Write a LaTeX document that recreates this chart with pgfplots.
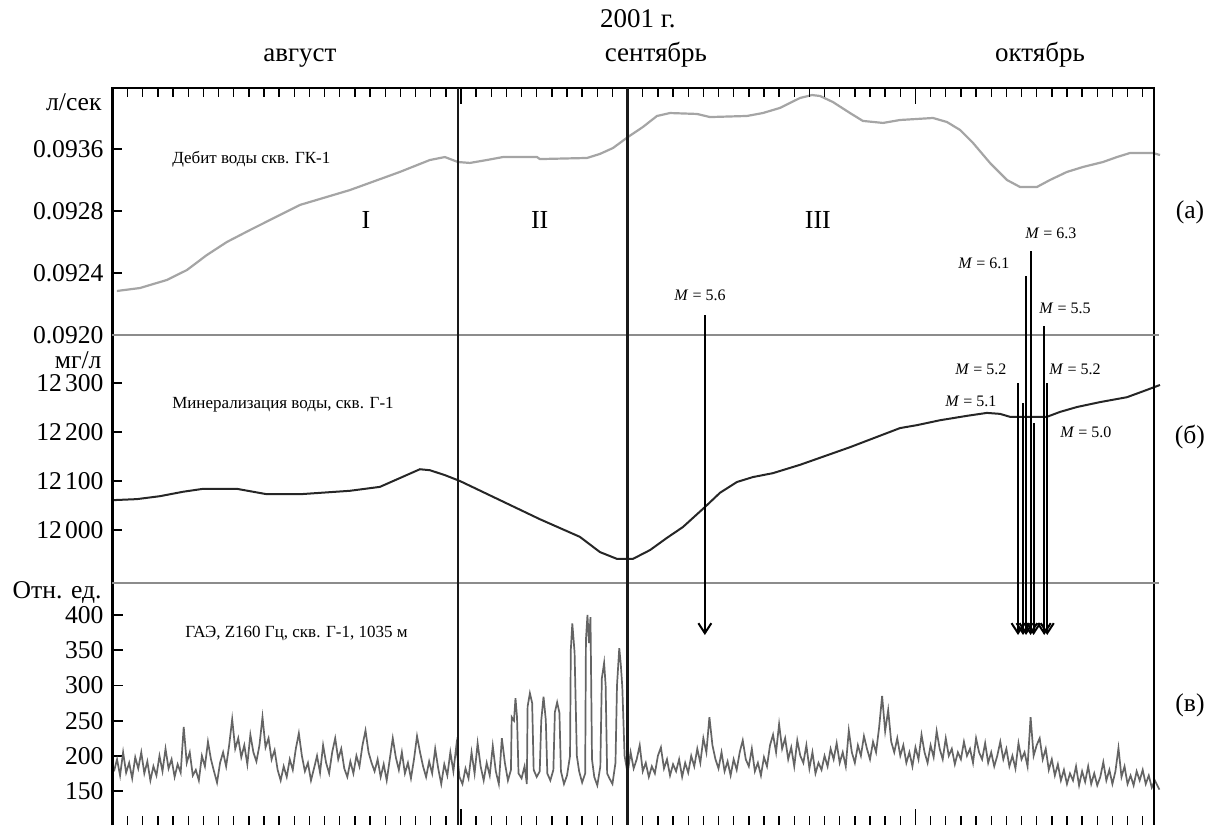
\documentclass[border=0pt]{standalone}
\usepackage{fontspec}
\setmainfont{Liberation Serif}
\usepackage{pgfplots}
\usepackage{pgfplotstable}
\pgfplotsset{compat=1.18}
\usetikzlibrary{arrows.meta}

\definecolor{debitgray}{RGB}{165,165,165}
\definecolor{gaegray}{RGB}{100,100,100}
\definecolor{sepgray}{RGB}{140,140,140}
\newcommand\tickfont{\fontsize{12.8}{14}\selectfont}
\newcommand\innerf{\fontsize{8.5}{10}\selectfont}
\newcommand\mfont{\fontsize{8}{9}\selectfont}
\newcommand\topf{\fontsize{13.5}{15}\selectfont}
\newcommand\thou{\kern0.12em}

% x: days from 1 Aug 2001 (Sep 1 = 31, Oct 1 = 61)
\pgfplotstableread{
d v
8.29 0.092284
9.81 0.092303
11.59 0.092355
12.91 0.092419
14.23 0.092516
15.55 0.092600
17.07 0.092677
20.37 0.092839
23.67 0.092935
26.97 0.093052
28.95 0.093129
29.94 0.093148
30.80 0.093116
31.59 0.093110
32.72 0.093129
33.77 0.093148
36.02 0.093148
36.21 0.093135
39.32 0.093142
40.17 0.093168
41.03 0.093206
42.02 0.093277
43.01 0.093342
43.94 0.093413
44.80 0.093432
46.58 0.093426
47.44 0.093406
49.88 0.093413
50.93 0.093432
52.06 0.093465
53.38 0.093529
54.17 0.093548
54.70 0.093542
55.55 0.093503
56.68 0.093432
57.53 0.093381
58.86 0.093368
59.98 0.093387
62.16 0.093400
63.08 0.093374
63.94 0.093323
64.80 0.093239
65.92 0.093110
67.04 0.093000
67.90 0.092955
69.02 0.092955
69.88 0.093000
71.00 0.093052
72.06 0.093084
73.38 0.093116
74.30 0.093148
75.16 0.093174
76.68 0.093174
77.14 0.093161
}\debit

\pgfplotstableread{
d v
8.10 12061
9.61 12063
11.13 12069
12.65 12078
13.97 12084
16.21 12084
18.19 12073
20.37 12073
23.67 12080
25.65 12088
26.97 12106
28.29 12124
28.95 12122
29.94 12112
30.93 12100
33.57 12061
36.21 12022
38.85 11986
40.17 11955
41.30 11941
42.35 11941
43.48 11959
44.60 11984
45.65 12006
47.11 12047
48.10 12076
49.22 12098
50.27 12108
51.59 12116
53.38 12133
56.68 12169
59.98 12208
61.10 12214
62.62 12224
64.40 12233
65.72 12239
66.58 12237
67.24 12231
69.68 12231
70.54 12241
71.66 12251
73.18 12261
74.96 12271
76.28 12286
77.14 12296
}\miner

\pgfplotstableread{
d v
8.1 178
8.3 195
8.5 172
8.7 205
8.9 176
9.1 190
9.3 168
9.5 198
9.7 182
9.9 205
10.1 175
10.3 192
10.5 165
10.7 185
10.9 172
11.1 200
11.3 178
11.5 210
11.7 182
11.9 195
12.1 170
12.3 188
12.5 176
12.7 241
12.9 190
13.1 205
13.3 172
13.5 180
13.7 165
13.9 200
14.1 185
14.3 220
14.5 195
14.7 178
14.9 162
15.1 190
15.3 205
15.5 185
15.7 215
15.9 252
16.1 210
16.3 225
16.5 198
16.7 215
16.9 188
17.1 230
17.3 205
17.5 192
17.7 215
17.9 255
18.1 212
18.3 225
18.5 195
18.7 208
18.9 180
19.1 165
19.3 185
19.5 170
19.7 195
19.9 180
20.1 210
20.3 232
20.5 200
20.7 178
20.9 190
21.1 165
21.3 182
21.5 200
21.7 176
21.9 215
22.1 190
22.3 175
22.5 205
22.7 225
22.9 195
23.1 210
23.3 182
23.5 170
23.7 192
23.9 175
24.1 200
24.3 185
24.5 215
24.7 236
24.9 205
25.1 190
25.3 178
25.5 195
25.7 170
25.9 188
26.1 165
26.3 195
26.5 225
26.7 198
26.9 180
27.1 205
27.3 175
27.5 190
27.7 168
27.9 195
28.1 228
28.3 205
28.5 185
28.7 170
28.9 192
29.1 175
29.3 210
29.5 182
29.7 160
29.9 188
30.1 172
30.3 205
30.5 178
30.7 215
30.9 170
31.1 160
31.3 182
31.5 168
31.7 205
31.9 175
32.1 218
32.3 185
32.5 165
32.7 190
32.9 172
33.1 214
33.3 178
33.5 160
33.7 225
33.9 190
34.1 165
34.3 180
34.35 255
34.5 250
34.6 282
34.7 255
34.8 175
35.0 168
35.2 185
35.35 160
35.4 270
35.55 289
35.7 275
35.8 180
36.0 170
36.2 178
36.3 250
36.45 284
36.6 251
36.7 175
36.9 165
37.1 180
37.2 262
37.35 276
37.5 261
37.6 178
37.8 160
38.0 172
38.2 200
38.25 350
38.35 388
38.5 347
38.65 200
38.8 178
39.0 162
39.2 175
39.25 365
39.35 400
39.45 360
39.55 397
39.65 195
39.8 170
40.0 158
40.2 185
40.3 310
40.45 332
40.55 300
40.65 175
40.8 168
41.0 160
41.2 190
41.3 300
41.45 353
41.55 330
41.65 298
41.8 200
42.0 175
42.2 205
42.4 182
42.6 195
42.8 215
43.0 178
43.2 190
43.4 170
43.6 185
43.8 175
44.0 200
44.2 212
44.4 182
44.6 195
44.8 172
45.0 188
45.2 178
45.4 195
45.6 170
45.8 190
46.0 176
46.2 200
46.4 185
46.6 210
46.8 190
47.0 225
47.2 205
47.4 255
47.6 215
47.8 195
48.0 182
48.2 205
48.4 178
48.6 192
48.8 172
49.0 195
49.2 180
49.4 205
49.6 222
49.8 195
50.0 185
50.2 210
50.4 178
50.6 190
50.8 172
51.0 198
51.2 185
51.4 215
51.6 230
51.8 205
52.0 245
52.2 210
52.4 225
52.6 195
52.8 212
53.0 185
53.2 222
53.4 200
53.6 190
53.8 215
54.0 182
54.2 205
54.4 175
54.6 190
54.8 180
55.0 200
55.2 185
55.4 210
55.6 195
55.8 218
56.0 190
56.2 205
56.4 185
56.6 236
56.8 205
57.0 190
57.2 215
57.4 200
57.6 228
57.8 210
58.0 195
58.2 220
58.4 205
58.6 240
58.8 285
59.0 235
59.2 265
59.4 220
59.6 205
59.8 225
60.0 200
60.2 215
60.4 190
60.6 205
60.8 185
61.0 212
61.2 195
61.4 230
61.6 205
61.8 190
62.0 215
62.2 198
62.4 235
62.6 210
62.8 195
63.0 225
63.2 200
63.4 210
63.6 188
63.8 205
64.0 195
64.2 220
64.4 200
64.6 210
64.8 190
65.0 225
65.2 205
65.4 195
65.6 218
65.8 190
66.0 205
66.2 185
66.4 200
66.6 220
66.8 195
67.0 210
67.2 185
67.4 200
67.6 182
67.8 218
68.0 195
68.2 205
68.4 185
68.6 255
68.8 200
69.0 215
69.2 225
69.4 195
69.6 210
69.8 180
70.0 195
70.2 172
70.4 188
70.6 165
70.8 180
71.0 160
71.2 175
71.4 165
71.6 185
71.8 158
72.0 178
72.2 163
72.4 185
72.6 160
72.8 175
73.0 158
73.2 170
73.4 191
73.6 165
73.8 180
74.0 160
74.2 178
74.4 211
74.6 170
74.8 185
75.0 160
75.2 172
75.4 158
75.6 178
75.8 165
76.0 180
76.2 160
76.4 172
76.6 155
76.8 165
77.1 152
}\gae

\begin{document}
\begin{tikzpicture}[x=1pt,y=1pt]
\useasboundingbox (-56.25pt,0pt) rectangle (550.25pt,412.5pt);

\pgfplotsset{panel/.style={
  scale only axis, width=520.7pt, xmin=8, xmax=76.74,
  anchor=south west, hide x axis, axis line style={draw=none},
  ytick pos=left, tick align=inside, major tick length=5pt,
  major tick style={line width=0.9pt, black},
  scaled y ticks=false, clip=false,
  yticklabel style={font=\tickfont, xshift=-1pt}}}

% (а) water discharge
\begin{axis}[panel, at={(0pt,245pt)}, height=123.5pt,
  ymin=0.0920, ymax=0.0935935,
  ytick={0.0920,0.0924,0.0928,0.0932},
  yticklabels={0.0920,0.0924,0.0928,0.0936}]
\addplot[debitgray, line width=1.1pt] table {\debit};
\end{axis}

% (б) mineralization
\begin{axis}[panel, at={(0pt,121pt)}, height=124pt,
  ymin=11891.8, ymax=12398,
  ytick={12000,12100,12200,12300},
  yticklabels={12\thou000,12\thou100,12\thou200,12\thou300}]
\addplot[black!85, line width=1pt] table {\miner};
\end{axis}

% (в) acoustic emission
\begin{axis}[panel, at={(0pt,0pt)}, height=121pt,
  ymin=101.7, ymax=445.5,
  ytick={150,200,250,300,350,400},
  yticklabels={150,200,250,300,350,400}]
\addplot[gaegray, line width=0.85pt] table {\gae};
\end{axis}

% overlay: frame, day ticks, boundaries, earthquakes, texts (y in px from top)
\begin{axis}[scale only axis, width=520.7pt, height=368.5pt,
  at={(0pt,0pt)}, anchor=south west,
  xmin=8, xmax=76.74, ymin=88, ymax=825, y dir=reverse,
  axis line style={draw=none}, ytick=\empty,
  xtick={8,...,76}, xticklabels={}, xtick pos=both, tick align=inside,
  major tick length=4.5pt, major tick style={line width=0.7pt, black},
  extra x ticks={31,61}, extra x tick labels={},
  extra x tick style={major tick length=8pt, tick style={line width=1.6pt}},
  clip=false]

\draw[line width=1.2pt] (axis cs:8,825) -- (axis cs:8,88) -- (axis cs:76.74,88) -- (axis cs:76.74,825);
\draw[sepgray, line width=0.9pt] (axis cs:8,335) -- (axis cs:77.1,335);
\draw[sepgray, line width=0.9pt] (axis cs:8,583) -- (axis cs:77.1,583);
\draw[black!90, line width=1.3pt] (axis cs:30.8,88) -- (axis cs:30.8,825);
\draw[black!90, line width=1.3pt] (axis cs:42.0,88) -- (axis cs:42.0,825);

\pgfplotsset{quake/.style={black, line width=1pt, -{Straight Barb[length=5pt,width=6.5pt]}}}
\addplot[quake] coordinates {(47.1,315) (47.1,635)};
\addplot[quake] coordinates {(67.77,383) (67.77,635)};
\addplot[quake] coordinates {(68.1,403) (68.1,635)};
\addplot[quake] coordinates {(68.3,276) (68.3,635)};
\addplot[quake] coordinates {(68.6,251) (68.6,635)};
\addplot[quake] coordinates {(68.8,423) (68.8,635)};
\addplot[quake] coordinates {(69.5,326) (69.5,635)};
\addplot[quake] coordinates {(69.7,383) (69.7,635)};

\node[font=\mfont] at (axis cs:46.78,295) {\textit{M} = 5.6};
\node[font=\mfont] at (axis cs:69.94,233) {\textit{M} = 6.3};
\node[font=\mfont] at (axis cs:65.52,263) {\textit{M} = 6.1};
\node[font=\mfont] at (axis cs:70.87,308) {\textit{M} = 5.5};
\node[font=\mfont] at (axis cs:65.32,369) {\textit{M} = 5.2};
\node[font=\mfont] at (axis cs:71.53,369) {\textit{M} = 5.2};
\node[font=\mfont] at (axis cs:64.66,401) {\textit{M} = 5.1};
\node[font=\mfont] at (axis cs:72.25,432) {\textit{M} = 5.0};

\node[font=\fontsize{13}{15}\selectfont] at (axis cs:24.73,220) {I};
\node[font=\fontsize{13}{15}\selectfont] at (axis cs:36.2,220) {II};
\node[font=\fontsize{13}{15}\selectfont] at (axis cs:54.56,220) {III};

\node[font=\innerf, anchor=west, inner sep=0pt] at (axis cs:11.92,159) {Дебит воды скв. ГК-1};
\node[font=\innerf, anchor=west, inner sep=0pt] at (axis cs:11.92,405) {Минерализация воды, скв. Г-1};
\node[font=\innerf, anchor=west, inner sep=0pt] at (axis cs:12.78,633) {ГАЭ, Z160 Гц, скв. Г-1, 1035 м};

\node[font=\tickfont, anchor=east, inner sep=0pt] at (axis cs:7.30,102) {л/сек};
\node[font=\tickfont, anchor=east, inner sep=0pt] at (axis cs:7.30,360) {мг/л};
\node[font=\tickfont, anchor=east, inner sep=0pt] at (axis cs:7.30,592) {Отн. ед.};

\node[font=\tickfont] at (axis cs:79.12,212) {(а)};
\node[font=\tickfont] at (axis cs:79.12,437) {(б)};
\node[font=\tickfont] at (axis cs:79.12,705) {(в)};

\node[font=\topf, anchor=base, inner sep=0pt] at (axis cs:42.68,27) {2001 г.};
\node[font=\topf, anchor=base, inner sep=0pt] at (axis cs:20.37,61) {август};
\node[font=\topf, anchor=base, inner sep=0pt] at (axis cs:43.87,61) {сентябрь};
\node[font=\topf, anchor=base, inner sep=0pt] at (axis cs:69.22,61) {октябрь};
\end{axis}
\end{tikzpicture}
\end{document}
